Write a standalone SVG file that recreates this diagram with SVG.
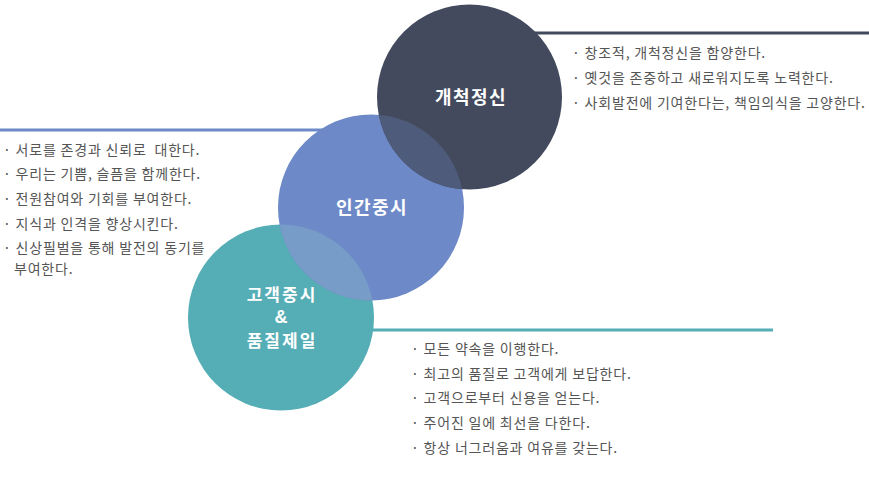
<svg xmlns="http://www.w3.org/2000/svg" width="869" height="487" viewBox="0 0 869 487">
<style>
.t{font-family:"Noto Sans CJK KR","Noto Sans",sans-serif;font-size:14px;letter-spacing:0.8px;fill:#555555;white-space:pre}
.h{font-family:"Noto Sans CJK KR","Noto Sans",sans-serif;font-size:18px;letter-spacing:1.5px;font-weight:bold;fill:#ffffff;text-anchor:middle}
.h2{font-family:"Noto Sans CJK KR","Noto Sans",sans-serif;font-size:17px;letter-spacing:2px;font-weight:bold;fill:#ffffff;text-anchor:middle}
.amp{font-family:"Liberation Sans",Arial,sans-serif;font-size:18px;font-weight:bold;fill:#ffffff;text-anchor:middle}
</style>
<defs>
<clipPath id="cBlue"><circle cx="371" cy="207.5" r="93"/></clipPath>
</defs>
<rect width="869" height="487" fill="#ffffff"/>
<g id="connectors">
<line x1="469" y1="33" x2="869" y2="33" stroke="#434a5e" stroke-width="3"/>
<line x1="0" y1="130" x2="371" y2="130" stroke="#6d89c8" stroke-width="3"/>
<line x1="281" y1="330" x2="773" y2="330" stroke="#55adb5" stroke-width="3"/>
</g>
<g id="node-teal">
<circle cx="281" cy="317.5" r="93" fill="#55adb5"/>
</g>
<g id="node-blue">
<circle cx="371" cy="207.5" r="93" fill="#6d89c8"/>
<circle cx="281" cy="317.5" r="93" fill="#779cc8" clip-path="url(#cBlue)"/>
</g>
<g id="node-dark">
<circle cx="469.5" cy="97" r="92.5" fill="#434a5e"/>
<circle cx="469.5" cy="97" r="92.5" fill="#4e5b7a" clip-path="url(#cBlue)"/>
</g>
<g id="label-dark"><text class="h" x="471" y="104">개척정신</text></g>
<g id="label-blue"><text class="h" x="372" y="214">인간중시</text></g>
<g id="label-teal">
<text class="h2" x="282" y="301">고객중시</text>
<text class="amp" x="281" y="323">&amp;</text>
<text class="h2" x="282" y="347">품질제일</text>
</g>
<g id="text-right">
<text class="t" x="572" y="58">· 창조적, 개척정신을 함양한다.</text>
<text class="t" x="572" y="83">· 옛것을 존중하고 새로워지도록 노력한다.</text>
<text class="t" x="572" y="108">· 사회발전에 기여한다는, 책임의식을 고양한다.</text>
</g>
<g id="text-left">
<text class="t" x="3" y="155">· 서로를 존경과 신뢰로  대한다.</text>
<text class="t" x="3" y="179">· 우리는 기쁨, 슬픔을 함께한다.</text>
<text class="t" x="3" y="204">· 전원참여와 기회를 부여한다.</text>
<text class="t" x="3" y="229">· 지식과 인격을 향상시킨다.</text>
<text class="t" x="3" y="253">· 신상필벌을 통해 발전의 동기를</text>
<text class="t" x="14" y="274">부여한다.</text>
</g>
<g id="text-bottom">
<text class="t" x="411" y="354">· 모든 약속을 이행한다.</text>
<text class="t" x="411" y="379">· 최고의 품질로 고객에게 보답한다.</text>
<text class="t" x="411" y="403">· 고객으로부터 신용을 얻는다.</text>
<text class="t" x="411" y="428">· 주어진 일에 최선을 다한다.</text>
<text class="t" x="411" y="453">· 항상 너그러움과 여유를 갖는다.</text>
</g>
</svg>
